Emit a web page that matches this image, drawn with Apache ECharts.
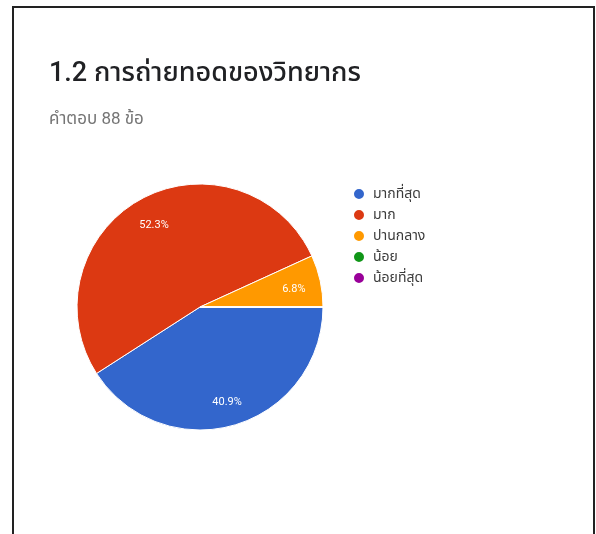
<!DOCTYPE html>
<html>
<head>
<meta charset="utf-8">
<style>
  html, body { margin: 0; padding: 0; background: #fff; }
  #chart { width: 596px; height: 534px; }
</style>
<script src="https://cdn.jsdelivr.net/npm/echarts@6/dist/echarts.min.js"></script>
</head>
<body>
<div id="chart"></div>
<script>
// Survey answers for question 1.2 (88 responses)
const categories = ['มากที่สุด', 'มาก', 'ปานกลาง', 'น้อย', 'น้อยที่สุด'];
const counts = [36, 46, 6, 0, 0];
const colors = ['#3366cc', '#dc3912', '#ff9900', '#109618', '#990099'];
const titleText = '1.2 การถ่ายทอดของวิทยากร';
const subtitleText = 'คำตอบ 88 ข้อ';

const FONT = 'Roboto, "Noto Sans", "Noto Sans Thai", "DejaVu Sans", sans-serif';

const pieData = categories.map((name, i) => ({
  name: name,
  value: counts[i],
  itemStyle: { color: colors[i] }
}));

const chart = echarts.init(document.getElementById('chart'), null, { renderer: 'canvas' });

chart.setOption({
  backgroundColor: '#ffffff',
  animation: false,
  title: {
    text: titleText,
    subtext: subtitleText,
    left: 44,
    top: 56,
    itemGap: 23,
    textStyle: { fontFamily: FONT, fontSize: 27, fontWeight: 500, color: '#202124' },
    subtextStyle: { fontFamily: FONT, fontSize: 17, color: '#757575' }
  },
  legend: {
    orient: 'vertical',
    left: 347,
    top: 182,
    icon: 'circle',
    itemWidth: 12,
    itemHeight: 12,
    itemGap: 7,
    selectedMode: false,
    textStyle: { fontFamily: FONT, fontSize: 14, color: '#3c3c3c', padding: [0, 0, 0, 3] },
    data: categories.map((name, i) => ({ name: name, itemStyle: { color: colors[i] } }))
  },
  graphic: [{
    type: 'polyline',
    silent: true,
    shape: { points: [[13, 540], [13, 7], [594, 7], [594, 540]] },
    style: { stroke: '#222', lineWidth: 2, fill: null }
  }],
  series: [
    {
      // the slices themselves
      type: 'pie',
      center: [200, 307],
      radius: [0, 123],
      startAngle: 0,
      clockwise: true,
      percentPrecision: 1,
      label: { show: false },
      labelLine: { show: false },
      emphasis: { disabled: true },
      itemStyle: { borderColor: '#ffffff', borderWidth: 1 },
      data: pieData
    },
    {
      // transparent ring carrying the percentage labels near the rim
      type: 'pie',
      silent: true,
      center: [200, 307],
      radius: [68, 118],
      startAngle: 0,
      clockwise: true,
      percentPrecision: 1,
      emphasis: { disabled: true },
      itemStyle: { color: 'rgba(0,0,0,0)' },
      label: {
        show: true,
        position: 'inside',
        fontFamily: FONT,
        fontSize: 11,
        color: '#ffffff',
        formatter: p => (p.value > 0 ? p.percent.toFixed(1) + '%' : '')
      },
      labelLayout: { dy: 3 },
      labelLine: { show: false },
      data: categories.map((name, i) => ({ name: name, value: counts[i] }))
    }
  ]
});
</script>
</body>
</html>
